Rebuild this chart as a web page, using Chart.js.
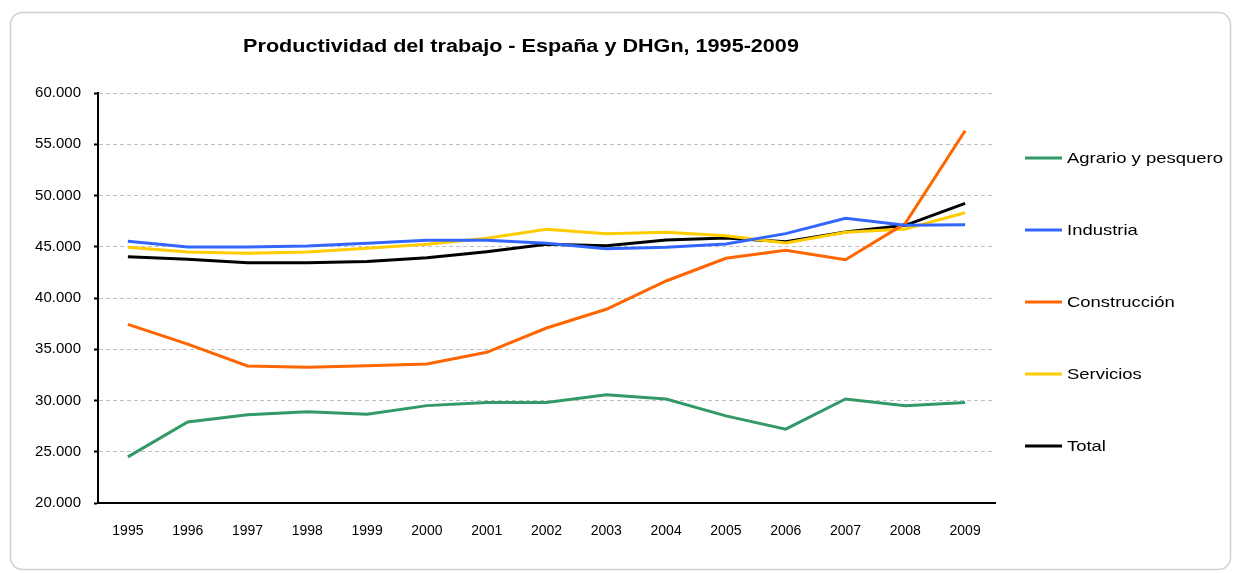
<!DOCTYPE html>
<html>
<head>
  <title>Productividad del trabajo</title>
  <script src="https://cdn.jsdelivr.net/npm/chart.js"></script>
  <style>
    html, body {
      margin: 0;
      padding: 0;
      background: #ffffff;
    }
    #wrap {
      position: relative;
      width: 1239px;
      height: 573px;
    }
  </style>
</head>
<body>
  <div id="wrap">
    <canvas id="chartCanvas"></canvas>
  </div>

  <script>
    // data
    const years = ['1995', '1996', '1997', '1998', '1999', '2000', '2001', '2002', '2003', '2004', '2005', '2006', '2007', '2008', '2009'];
    const agrario = [24500, 27900, 28600, 28900, 28650, 29500, 29800, 29800, 30550, 30150, 28500, 27200, 30150, 29500, 29800];
    const industria = [45530, 44980, 44980, 45070, 45330, 45630, 45630, 45330, 44810, 44940, 45270, 46280, 47770, 47090, 47150];
    const construccion = [37430, 35500, 33370, 33240, 33400, 33560, 34700, 37070, 38900, 41660, 43870, 44650, 43740, 47290, 56320];
    const servicios = [44940, 44490, 44360, 44490, 44850, 45240, 45820, 46700, 46280, 46410, 46080, 45370, 46410, 46730, 48320];
    const total = [44030, 43770, 43440, 43440, 43570, 43930, 44520, 45240, 45100, 45660, 45850, 45490, 46440, 47090, 49230];

    const seriesNames = ['Agrario y pesquero', 'Industria', 'Construcción', 'Servicios', 'Total'];
    const seriesColors = ['#339966', '#3366ff', '#ff6600', '#ffcc00', '#000000'];
    const chartTitle = 'Productividad del trabajo - España y DHGn, 1995-2009';

    const FONT = '"Liberation Sans", Arial, sans-serif';

    function fmt(v) {
      return String(v).replace(/\B(?=(\d{3})+(?!\d))/g, '.');
    }

    // text in the original is a bit stretched sideways
    function wideText(ctx, text, x, y, sx) {
      ctx.save();
      ctx.translate(x, y);
      ctx.scale(sx, 1);
      ctx.fillText(text, 0, 0);
      ctx.restore();
    }

    // frame + title + legend drawn by hand
    const decorations = {
      id: 'decorations',
      beforeDraw(chart) {
        const ctx = chart.ctx;
        ctx.save();
        ctx.strokeStyle = '#cfcfcf';
        ctx.lineWidth = 1.5;
        ctx.beginPath();
        ctx.roundRect(10.5, 12.5, 1220, 557, 12);
        ctx.stroke();
        ctx.restore();
      },
      afterDraw(chart) {
        const ctx = chart.ctx;
        ctx.save();
        ctx.fillStyle = '#000';
        ctx.font = 'bold 18px ' + FONT;
        ctx.textAlign = 'center';
        ctx.textBaseline = 'middle';
        wideText(ctx, chartTitle, 521, 47, 1.2);

        const legendY = [158, 230, 302, 374, 446];
        ctx.font = '15px ' + FONT;
        ctx.textAlign = 'left';
        chart.data.datasets.forEach((ds, i) => {
          ctx.strokeStyle = ds.borderColor;
          ctx.lineWidth = 3;
          ctx.beginPath();
          ctx.moveTo(1025, legendY[i]);
          ctx.lineTo(1062, legendY[i]);
          ctx.stroke();
          ctx.fillStyle = '#000';
          wideText(ctx, ds.label, 1067, legendY[i] + 1, 1.23);
        });
        ctx.restore();
      }
    };

    const seriesData = [agrario, industria, construccion, servicios, total];
    const datasets = seriesNames.map((name, i) => ({
      label: name,
      data: seriesData[i],
      borderColor: seriesColors[i],
      backgroundColor: seriesColors[i],
      borderWidth: 3,
      pointRadius: 0,
      tension: 0,
      fill: false
    }));

    new Chart(document.getElementById('chartCanvas'), {
      type: 'line',
      data: { labels: years, datasets: datasets },
      plugins: [decorations],
      options: {
        responsive: true,
        maintainAspectRatio: false,
        animation: false,
        layout: {
          padding: { top: 93, right: 244, bottom: 0, left: 0 }
        },
        plugins: {
          legend: { display: false },
          title: { display: false },
          tooltip: { enabled: false }
        },
        scales: {
          x: {
            offset: true,
            grid: { display: false },
            border: { display: true, color: '#000', width: 2 },
            ticks: {
              color: '#000',
              padding: 12,
              maxRotation: 0,
              autoSkip: false,
              font: { family: FONT, size: 14 }
            },
            afterFit(scale) { scale.height = 70; }
          },
          y: {
            min: 20000,
            max: 60000,
            grid: {
              color: '#c0c0c0',
              lineWidth: 1,
              tickLength: 4,
              tickColor: '#000',
              tickWidth: 2,
              tickBorderDash: []
            },
            border: { display: true, color: '#000', width: 2, dash: [4, 3] },
            ticks: {
              stepSize: 5000,
              color: '#000',
              padding: 13,
              font: { family: FONT, size: 15 },
              callback: v => fmt(v)
            },
            afterFit(scale) { scale.width = 98; }
          }
        }
      }
    });
  </script>
</body>
</html>
